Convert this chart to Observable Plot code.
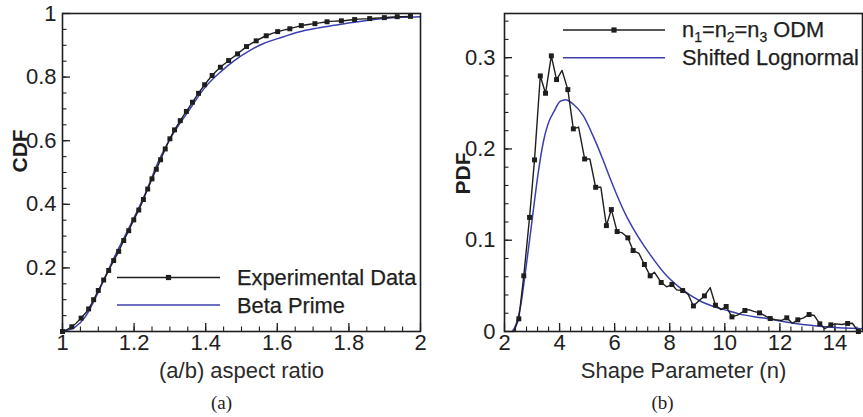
<!DOCTYPE html>
<html><head><meta charset="utf-8">
<script src="https://cdn.jsdelivr.net/npm/d3@7"></script>
<script src="https://cdn.jsdelivr.net/npm/@observablehq/plot@0.6"></script>
<style>
body{margin:0;background:#fff}
#wrap{display:flex;width:863px;height:417px;overflow:hidden}
</style>
</head><body><div id="wrap"></div>
<script>
// ---------- Panel (a): CDF of aspect ratio ----------
const expAspect = [1.0,1.026,1.052,1.073,1.087,1.10,1.115,1.129,1.143,1.157,1.171,1.185,1.199,1.213,1.226,1.238,1.25,1.262,1.274,1.287,1.30,1.313,1.329,1.346,1.363,1.38,1.397,1.418,1.441,1.464,1.489,1.514,1.541,1.569,1.601,1.635,1.667,1.705,1.739,1.779,1.816,1.858,1.899,1.935,1.972];
const expCdf    = [0,0.015,0.042,0.071,0.10,0.129,0.162,0.192,0.223,0.252,0.286,0.317,0.351,0.382,0.415,0.448,0.48,0.51,0.54,0.574,0.606,0.634,0.663,0.692,0.721,0.749,0.776,0.805,0.831,0.852,0.873,0.896,0.914,0.930,0.943,0.952,0.962,0.968,0.974,0.977,0.981,0.984,0.987,0.990,0.991];
const betaAspect = [1.0,1.035,1.063,1.091,1.119,1.147,1.175,1.203,1.231,1.27,1.30,1.35,1.40,1.44,1.48,1.525,1.56,1.618,1.66,1.711,1.76,1.804,1.85,1.897,1.95,2.0];
const betaCdf    = [0,0.0135,0.045,0.103,0.171,0.239,0.302,0.365,0.433,0.54,0.605,0.69,0.77,0.815,0.852,0.885,0.905,0.927,0.942,0.954,0.963,0.971,0.978,0.984,0.988,0.990];
const aXTicks = [1,1.2,1.4,1.6,1.8,2];
const aYTicks = [0.2,0.4,0.6,0.8,1];

// ---------- Panel (b): PDF of shape parameter ----------
const odmN   = [2.34,2.52,2.70,2.91,3.09,3.30,3.49,3.70,3.89,4.09,4.30,4.50,4.69,4.91,5.10,5.31,5.50,5.70,5.88,6.09,6.28,6.48,6.67,6.88,7.08,7.29,7.44,7.69,7.89,8.08,8.25,8.47,8.67,8.86,9.07,9.26,9.47,9.66,9.86,10.05,10.26,10.46,10.73,10.87,11.05,11.26,11.45,11.65,11.83,12.05,12.25,12.45,12.65,12.86,13.06,13.25,13.45,13.63,13.85,14.06,14.24,14.46,14.63,14.85];
const odmPdf = [0,0.0139,0.061,0.125,0.188,0.280,0.261,0.302,0.276,0.286,0.265,0.222,0.224,0.189,0.189,0.158,0.158,0.116,0.1336,0.1095,0.108,0.1026,0.0887,0.0857,0.0734,0.061,0.065,0.0537,0.049,0.0515,0.0456,0.0449,0.0405,0.028,0.034,0.039,0.048,0.0288,0.024,0.0274,0.016,0.018,0.023,0.024,0.022,0.0204,0.0175,0.0142,0.013,0.012,0.015,0.009,0.0128,0.015,0.0186,0.0175,0.0084,0.003,0.0073,0.0084,0.0077,0.0088,0.009,0];
const odmMarked = [0,1,1,1,1,1,1,1,1,0,1,1,0,1,0,1,0,1,1,1,0,1,1,0,1,1,0,1,0,1,0,1,0,1,0,1,0,1,0,1,1,0,1,0,0,1,0,1,0,0,1,0,1,0,1,0,1,0,1,0,0,1,0,1];
const lognN   = [2.28,2.42,2.58,2.75,2.91,3.06,3.22,3.42,3.64,3.78,4.02,4.22,4.5,4.86,5.22,5.58,5.82,6.13,6.4,6.67,7.27,7.88,8.47,9.07,9.67,10.15,10.51,11.35,12.55,13.76,15.0];
const lognPdf = [0,0.008,0.027,0.063,0.1,0.136,0.173,0.209,0.232,0.240,0.252,0.254,0.249,0.2365,0.214,0.188,0.169,0.146,0.128,0.113,0.085,0.0613,0.0456,0.034,0.0266,0.0225,0.0193,0.015,0.0088,0.005,0.003];
const bXTicks = [2,4,6,8,10,12,14];
const bYTicks = [0,0.1,0.2,0.3];

const BLUE = "#3b3fae";
const INK = "#1e1e1e";
const FONT = "Liberation Sans, Arial, sans-serif";

const expData = expAspect.map((x,i)=>({x, y: expCdf[i]}));
const betaData = betaAspect.map((x,i)=>({x, y: betaCdf[i]}));
const odmData = odmN.map((x,i)=>({x, y: odmPdf[i], m: odmMarked[i]}));
const lognData = lognN.map((x,i)=>({x, y: lognPdf[i]}));

function legendMark(cfg) {
  return () => {
    const g = d3.create("svg:g").attr("font-family", FONT).attr("font-size", 21.8).attr("fill", INK).attr("text-anchor", "start");
    cfg.items.forEach((it, i) => {
      const y = cfg.y + i*cfg.dy;
      g.append("line").attr("x1", cfg.x1).attr("x2", cfg.x2).attr("y1", y).attr("y2", y)
        .attr("stroke", it.color).attr("stroke-width", 1.5);
      if (it.marker) {
        const mx = (cfg.x1+cfg.x2)/2;
        g.append("rect").attr("x", mx-2.6).attr("y", y-2.6).attr("width", 5.2).attr("height", 5.2).attr("fill", INK);
      }
      const t = g.append("text").attr("x", cfg.tx).attr("y", y + cfg.tdy).attr("text-anchor", "start")
        .attr("stroke", INK).attr("stroke-width", 0.25);
      it.parts.forEach(p => {
        if (p.sub) t.append("tspan").attr("font-size", 14).attr("dy", 5).text(p.sub);
        else t.append("tspan").attr("dy", p.after ? -5 : 0).text(p.t);
      });
    });
    return g.node();
  };
}

function panel(o) {
  const fw = o.width - o.ml - o.mr, fh = o.height - o.mt - o.mb;
  const minorX = d3.range(o.xd[0], o.xd[1] + 1e-9, o.xMinor).filter(v => v > o.xd[0]+1e-9 && v < o.xd[1]-1e-9);
  const minorY = d3.range(o.yd[0], o.yd[1] + 1e-9, o.yMinor).filter(v => v > o.yd[0]+1e-9 && v < o.yd[1]-1e-9);
  return Plot.plot({
    width: o.width, height: o.height,
    marginLeft: o.ml, marginRight: o.mr, marginTop: o.mt, marginBottom: o.mb,
    style: {fontFamily: FONT, fontSize: "22px", color: INK, background: "white", overflow: "visible"},
    x: {domain: o.xd},
    y: {domain: o.yd},
    marks: [
      Plot.ruleX(minorX, {x: d=>d, insetTop: fh-4.5, stroke: INK, strokeWidth: 1.1}),
      Plot.ruleX(o.xTicks, {x: d=>d, insetTop: fh-8, stroke: INK, strokeWidth: 1.3}),
      Plot.ruleY(minorY, {y: d=>d, insetRight: fw-4.5, stroke: INK, strokeWidth: 1.1}),
      Plot.ruleY(o.yTicks, {y: d=>d, insetRight: fw-8, stroke: INK, strokeWidth: 1.3}),
      Plot.axisX({ticks: o.xTicks, tickSize: 0, tickPadding: 3, tickFormat: d3.format("~g"), label: null, fill: INK, fontSize: 22, stroke: INK, strokeWidth: 0.4}),
      Plot.axisY({ticks: o.yTicks, tickSize: 0, tickPadding: o.yPad, tickFormat: d3.format("~g"), label: null, fill: INK, fontSize: 22, stroke: INK, strokeWidth: 0.4}),
      ...o.data,
      Plot.frame({stroke: INK, strokeWidth: 1.6}),
      Plot.text([o.xLabel], {text: d=>d, frameAnchor: "bottom", dy: 46, lineAnchor: "bottom", fontSize: 22, fill: "#2a2a2a"}),
      Plot.text([o.yLabel], {text: d=>d, frameAnchor: "left", dx: o.yLabelDx, dy: o.yLabelDy, rotate: -90, fontSize: 21, fontWeight: "bold", fill: INK}),
      Plot.text([o.caption], {text: d=>d, frameAnchor: "bottom", dx: o.capDx, dy: 77, lineAnchor: "bottom", fontSize: 19, fontFamily: "Liberation Serif, Times New Roman, serif", fill: INK}),
      legendMark(o.legend)
    ]
  });
}

const wrap = document.getElementById("wrap");

wrap.appendChild(panel({
  width: 430, height: 417, ml: 62, mr: 10, mt: 13, mb: 86,
  xd: [1, 2], yd: [0, 1], xMinor: 0.05, yMinor: 0.05,
  xTicks: aXTicks, yTicks: aYTicks, yPad: 6,
  xLabel: "(a/b) aspect ratio", yLabel: "CDF", yLabelDx: -42, yLabelDy: 0,
  caption: "(a)", capDx: -20,
  data: [
    Plot.line(betaData, {x: "x", y: "y", stroke: BLUE, strokeWidth: 1.5, curve: "monotone-x"}),
    Plot.line(expData, {x: "x", y: "y", stroke: INK, strokeWidth: 1.4, curve: "monotone-x"}),
    Plot.dot(expData, {x: "x", y: "y", symbol: "square", r: 2.8, fill: INK, stroke: "none"})
  ],
  legend: {x1: 117, x2: 220, y: 277.5, dy: 27.5, tx: 237, tdy: 7.5, items: [
    {color: INK, marker: true, parts: [{t: "Experimental Data"}]},
    {color: BLUE, parts: [{t: "Beta Prime"}]}
  ]}
}));

wrap.appendChild(panel({
  width: 433, height: 417, ml: 74, mr: 1, mt: 13, mb: 86,
  xd: [2, 15], yd: [0, 0.3484], xMinor: 0.4, yMinor: 0.02,
  xTicks: bXTicks, yTicks: bYTicks, yPad: 9,
  xLabel: "Shape Parameter (n)", yLabel: "PDF", yLabelDx: -41, yLabelDy: 22,
  caption: "(b)", capDx: -21,
  data: [
    Plot.line(lognData, {x: "x", y: "y", stroke: BLUE, strokeWidth: 1.5, curve: "monotone-x"}),
    Plot.line(odmData, {x: "x", y: "y", stroke: INK, strokeWidth: 1.4}),
    Plot.dot(odmData.filter(d => d.m), {x: "x", y: "y", symbol: "square", r: 2.8, fill: INK, stroke: "none"})
  ],
  legend: {x1: 133, x2: 235, y: 30, dy: 27.7, tx: 252, tdy: 7, items: [
    {color: INK, marker: true, parts: [{t: "n"}, {sub: "1"}, {t: "=n", after: true}, {sub: "2"}, {t: "=n", after: true}, {sub: "3"}, {t: " ODM", after: true}]},
    {color: BLUE, parts: [{t: "Shifted Lognormal"}]}
  ]}
}));
</script>
</body></html>
